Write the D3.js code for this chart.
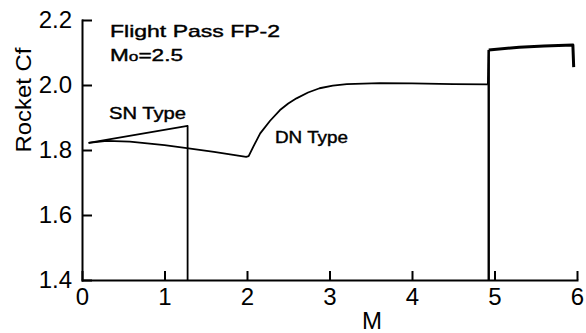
<!DOCTYPE html>
<html>
<head>
<meta charset="utf-8">
<script src="https://d3js.org/d3.v7.min.js"></script>
<style>
  body { margin: 0; background: #fff; }
  text { font-family: "Liberation Sans", Arial, sans-serif; fill: #000; }
  .axis path, .axis line { stroke: #000; stroke-width: 2px; }
  .axis text { font-size: 24px; }
  .curve { fill: none; stroke: #000; stroke-width: 1.8px; stroke-linejoin: round; }
  .note { stroke: #000; stroke-width: 0.4px; }
</style>
</head>
<body>
<svg id="chart" width="586" height="333"></svg>
<script>
// data
var yTicks = [1.4, 1.6, 1.8, 2.0, 2.2];
var xTicks = [0, 1, 2, 3, 4, 5, 6];

// SN type nozzle
var snM  = [0.08, 1.28, 1.28];
var snCf = [1.822, 1.874, 1.4];

// DN type nozzle
var dnM  = [0.08, 0.3, 0.58, 1.0, 1.27, 1.6, 1.99, 2.02, 2.08, 2.16, 2.28, 2.40, 2.50, 2.60, 2.74, 2.88, 3.04, 3.21, 3.61, 4.0, 4.5, 4.92];
var dnCf = [1.822, 1.828, 1.826, 1.815, 1.806, 1.794, 1.779, 1.781, 1.812, 1.851, 1.89, 1.923, 1.943, 1.959, 1.977, 1.990, 1.998, 2.003, 2.006, 2.005, 2.003, 2.002];

// jump beyond M=4.93
var jumpM  = [4.93, 4.93, 5.3, 5.6, 5.95, 5.96];
var jumpCf = [1.4, 2.108, 2.116, 2.12, 2.123, 2.055];

var svg = d3.select("#chart");

var x = d3.scaleLinear().domain([0, 6]).range([82, 577]);
var y = d3.scaleLinear().domain([1.4, 2.2]).range([280, 20]);

// axes, ticks point inward
svg.append("g")
    .attr("class", "axis")
    .attr("transform", "translate(82,0)")
    .call(d3.axisLeft(y).tickValues(yTicks).tickSizeInner(-10).tickSizeOuter(0).tickPadding(10)
      .tickFormat(d3.format(".1f")));

svg.append("g")
    .attr("class", "axis")
    .attr("transform", "translate(0,280)")
    .call(d3.axisBottom(x).tickValues(xTicks).tickSizeInner(-9).tickSizeOuter(0).tickPadding(8)
      .tickFormat(d3.format("d")));

svg.selectAll(".axis .domain").attr("stroke-linecap", "square");

var line = d3.line()
    .x(function(d) { return x(d[0]); })
    .y(function(d) { return y(d[1]); });

function pairs(a, b) { return a.map(function(v, i) { return [v, b[i]]; }); }

svg.append("path").attr("class", "curve").attr("d", line(pairs(snM, snCf)));
svg.append("path").attr("class", "curve").attr("d", line(pairs(dnM, dnCf)));
svg.append("path").attr("class", "curve").attr("d", line(pairs(dnM.slice(-1).concat(jumpM.slice(1, 2)), dnCf.slice(-1).concat(jumpCf.slice(1, 2)))));
svg.append("path").attr("class", "curve").attr("d", line(pairs(jumpM.slice(0, 2), jumpCf.slice(0, 2))))
    .style("stroke-width", "2.4px");
svg.append("path").attr("class", "curve").attr("d", line(pairs(jumpM.slice(1), jumpCf.slice(1))))
    .style("stroke-width", "3px");

// labels
svg.append("text")
    .attr("class", "note")
    .attr("x", 110).attr("y", 37)
    .attr("font-size", 17)
    .attr("textLength", 170).attr("lengthAdjust", "spacingAndGlyphs")
    .text("Flight Pass FP-2");

var mo = svg.append("text")
    .attr("class", "note")
    .attr("x", 110).attr("y", 61)
    .attr("font-size", 17)
    .attr("textLength", 73).attr("lengthAdjust", "spacingAndGlyphs");
mo.append("tspan").text("M");
mo.append("tspan").attr("font-size", 13).text("o");
mo.append("tspan").text("=2.5");

svg.append("text")
    .attr("class", "note")
    .attr("x", 109).attr("y", 119)
    .attr("font-size", 16)
    .attr("textLength", 77).attr("lengthAdjust", "spacingAndGlyphs")
    .text("SN Type");

svg.append("text")
    .attr("class", "note")
    .attr("x", 275).attr("y", 143)
    .attr("font-size", 16)
    .attr("textLength", 73).attr("lengthAdjust", "spacingAndGlyphs")
    .text("DN Type");

svg.append("text")
    .attr("transform", "translate(31,100) rotate(-90)")
    .attr("text-anchor", "middle")
    .attr("font-size", 22)
    .attr("textLength", 105).attr("lengthAdjust", "spacingAndGlyphs")
    .text("Rocket Cf");

svg.append("text")
    .attr("x", 372).attr("y", 329)
    .attr("text-anchor", "middle")
    .attr("font-size", 24)
    .text("M");
</script>
</body>
</html>
